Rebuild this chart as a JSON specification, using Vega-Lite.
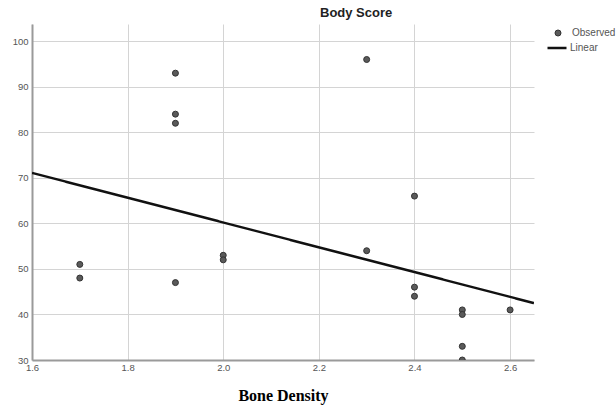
{
  "$schema": "https://vega.github.io/schema/vega-lite/v6.json",
  "width": 502,
  "height": 336,
  "autosize": {"type": "none"},
  "padding": {"left": 32, "top": 24, "right": 82, "bottom": 47},
  "background": "white",
  "config": {
    "view": {"stroke": null},
    "axis": {
      "labelFont": "Liberation Sans",
      "labelFontSize": 9.5,
      "labelColor": "#555555",
      "domainColor": "#9a9a9a",
      "domainWidth": 2,
      "gridColor": "#d4d4d4",
      "gridWidth": 1,
      "ticks": false,
      "labelFlush": false
    },
    "legend": {
      "labelFont": "Liberation Sans",
      "labelFontSize": 10,
      "labelColor": "#555555",
      "padding": 0
    }
  },
  "title": {
    "text": "Body Score",
    "anchor": "start",
    "frame": "group",
    "dx": 288,
    "offset": 4,
    "font": "Liberation Sans",
    "fontSize": 13,
    "fontWeight": "bold",
    "color": "#222222"
  },
  "datasets": {
    "obs": [
      {"density": 1.7, "score": 51, "series": "Observed"},
      {"density": 1.7, "score": 48, "series": "Observed"},
      {"density": 1.9, "score": 93, "series": "Observed"},
      {"density": 1.9, "score": 84, "series": "Observed"},
      {"density": 1.9, "score": 82, "series": "Observed"},
      {"density": 1.9, "score": 47, "series": "Observed"},
      {"density": 2.0, "score": 53, "series": "Observed"},
      {"density": 2.0, "score": 52, "series": "Observed"},
      {"density": 2.3, "score": 96, "series": "Observed"},
      {"density": 2.3, "score": 54, "series": "Observed"},
      {"density": 2.4, "score": 66, "series": "Observed"},
      {"density": 2.4, "score": 46, "series": "Observed"},
      {"density": 2.4, "score": 44, "series": "Observed"},
      {"density": 2.5, "score": 41, "series": "Observed"},
      {"density": 2.5, "score": 40, "series": "Observed"},
      {"density": 2.5, "score": 33, "series": "Observed"},
      {"density": 2.5, "score": 30, "series": "Observed"},
      {"density": 2.6, "score": 41, "series": "Observed"}
    ],
    "fit": [
      {"density": 1.6, "score": 71.1, "series": "Linear"},
      {"density": 2.65, "score": 42.5, "series": "Linear"}
    ]
  },
  "layer": [
    {
      "data": {"name": "obs"},
      "mark": {"type": "point", "filled": true, "clip": true, "size": 36, "stroke": "#333333", "strokeWidth": 1, "opacity": 1},
      "encoding": {
        "x": {
          "field": "density", "type": "quantitative",
          "scale": {"domain": [1.6, 2.65], "nice": false, "zero": false},
          "axis": {"values": [1.6, 1.8, 2.0, 2.2, 2.4, 2.6], "format": ".1f", "labelPadding": 2,
                   "title": "Bone Density", "titleFont": "Liberation Serif", "titleFontSize": 16,
                   "titleFontWeight": "bold", "titleColor": "#000000", "titlePadding": 16}
        },
        "y": {
          "field": "score", "type": "quantitative",
          "scale": {"domain": [30, 103.8], "nice": false, "zero": false},
          "axis": {"values": [30, 40, 50, 60, 70, 80, 90, 100], "labelPadding": 4, "title": null}
        },
        "color": {
          "field": "series", "type": "nominal",
          "scale": {"domain": ["Observed"], "range": ["#5a5a5a"]},
          "legend": {"title": null, "orient": "none", "legendX": 521, "legendY": 4,
                     "symbolType": "circle", "symbolSize": 36, "symbolStrokeColor": "#333333", "symbolStrokeWidth": 1, "labelOffset": 9}
        }
      }
    },
    {
      "data": {"name": "fit"},
      "mark": {"type": "line", "color": "#111111", "strokeWidth": 2.5, "clip": true},
      "encoding": {
        "x": {"field": "density", "type": "quantitative"},
        "y": {"field": "score", "type": "quantitative"},
        "strokeDash": {
          "field": "series", "type": "nominal",
          "scale": {"domain": ["Linear"], "range": [[1, 0]]},
          "legend": {"title": null, "orient": "none", "legendX": 514, "legendY": 13,
                     "symbolType": "stroke", "symbolSize": 361, "symbolStrokeColor": "#111111", "symbolStrokeWidth": 2.5, "labelOffset": 2}
        }
      }
    }
  ]
}
